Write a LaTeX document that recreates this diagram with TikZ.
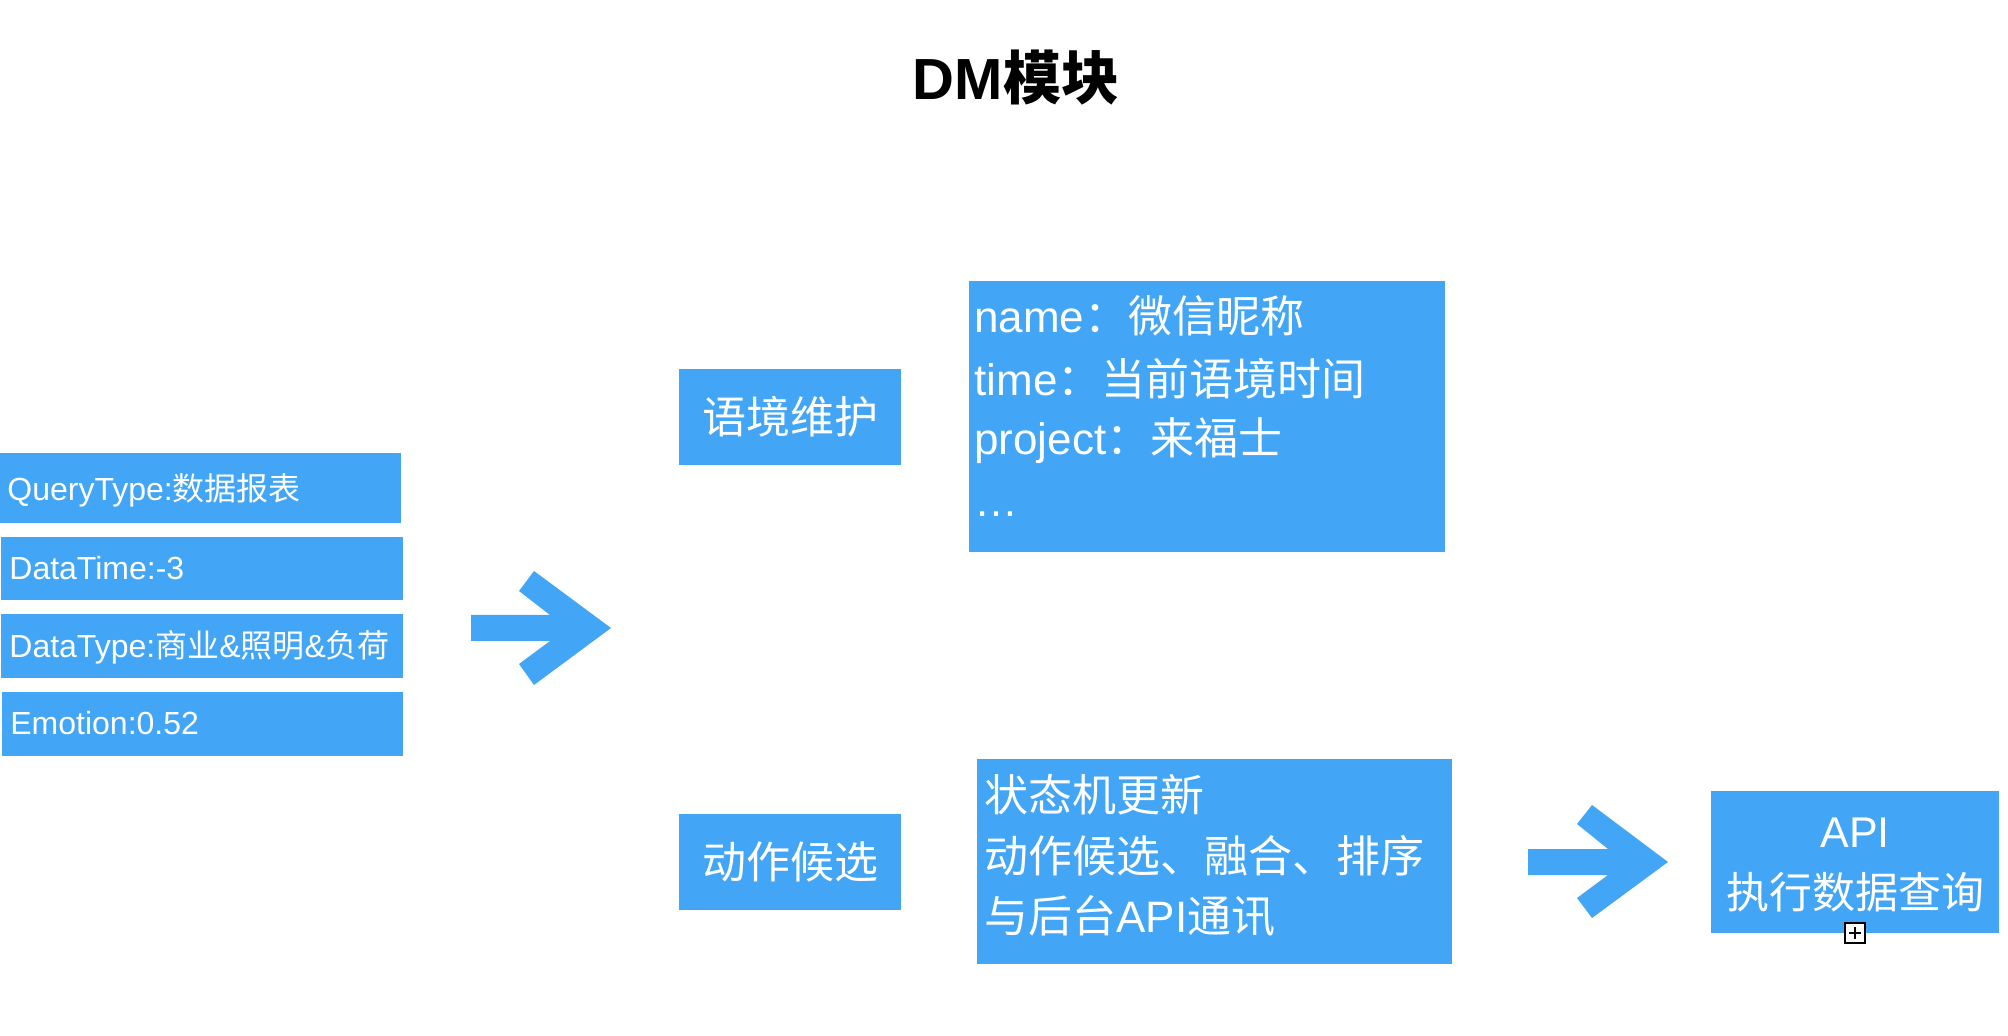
\documentclass[tikz,border=0pt]{standalone}
\usepackage{fontspec}
\setmainfont{Liberation Sans}
\newfontfamily\cjk{Noto Sans CJK SC}
\definecolor{blu}{RGB}{66,165,246}
\newcommand\zh[1]{{\cjk #1}}
\tikzset{
  blk/.style={fill=blu, draw=none, inner sep=0pt, outer sep=0pt, anchor=north west},
  smallt/.style={text=white, font=\fontsize{16}{19}\selectfont, inner sep=0pt, anchor=base west},
  bigt/.style={text=white, font=\fontsize{22}{26}\selectfont, inner sep=0pt, anchor=base west},
  midt/.style={text=white, font=\cjk\fontsize{22}{26}\selectfont},
  apit/.style={text=white, font=\fontsize{21.5}{25}\selectfont, inner sep=0pt, anchor=base},
  arr/.style={fill=blu, draw=none},
}
\begin{document}
\begin{tikzpicture}[x=0.5pt, y=-0.5pt]
\useasboundingbox (0,0) rectangle (2008,1036);
% title
\node[anchor=base, inner sep=0pt, font=\fontsize{29}{34}\selectfont\bfseries] (title) at (1016,100) {DM{\cjk\bfseries 模块}};
% left boxes
\node[blk, minimum width=200.5pt, minimum height=35pt] (q1) at (0,453) {};
\node[blk, minimum width=201pt, minimum height=31.5pt] (q2) at (1,537) {};
\node[blk, minimum width=201pt, minimum height=32pt] (q3) at (1,614) {};
\node[blk, minimum width=200.5pt, minimum height=32pt] (q4) at (2,692) {};
\node[smallt] (q1t) at (7,501) {QueryType:\zh{数据报表}};
\node[smallt] (q2t) at (9,580) {DataTime:-3};
\node[smallt] (q3t) at (9,658) {DataType:\zh{商业}\&\zh{照明}\&\zh{负荷}};
\node[smallt] (q4t) at (10,735) {Emotion:0.52};
% left arrow
\fill[arr] (471,615) -- (550,615) -- (519,591) -- (534,571) -- (611,628) -- (534,685) -- (519,664) -- (550,641) -- (471,641) -- cycle;
% context maintenance
\node[blk, midt, minimum width=111pt, minimum height=48pt] (ctx) at (679,369) {语境维护};
\node[blk, minimum width=238pt, minimum height=135.5pt] (ctxd) at (969,281) {};
\node[bigt] (c1) at (974,333) {name\zh{：微信昵称}};
\node[bigt] (c2) at (974,396) {time\zh{：当前语境时间}};
\node[bigt] (c3) at (974,455) {project\zh{：来福士}};
\node[bigt] (c4) at (974,517) {…};
% action candidates
\node[blk, midt, minimum width=111pt, minimum height=48pt] (act) at (679,814) {动作候选};
\node[blk, minimum width=237.5pt, minimum height=102.5pt] (actd) at (977,759) {};
\node[bigt] (a1) at (984,812) {\zh{状态机更新}};
\node[bigt] (a2) at (984,872) {\zh{动作候选、融合、排序}};
\node[bigt] (a3) at (984,932) {\zh{与后台}API\zh{通讯}};
% right arrow
\fill[arr] (1528,849) -- (1608,849) -- (1577,824) -- (1592,805) -- (1668,862) -- (1592,918) -- (1577,898) -- (1608,875) -- (1528,875) -- cycle;
% API box
\node[blk, minimum width=144pt, minimum height=71pt] (api) at (1711,791) {};
\node[apit] (api1) at (1855,848) {API};
\node[apit] (api2) at (1855,908) {\zh{执行数据查询}};
% small handle icon
\draw[black, fill=white, line width=1pt] (1845,923) rectangle (1865,943);
\draw[black, line width=1pt] (1849,933) -- (1861,933) (1855,927) -- (1855,939);
\end{tikzpicture}
\end{document}
